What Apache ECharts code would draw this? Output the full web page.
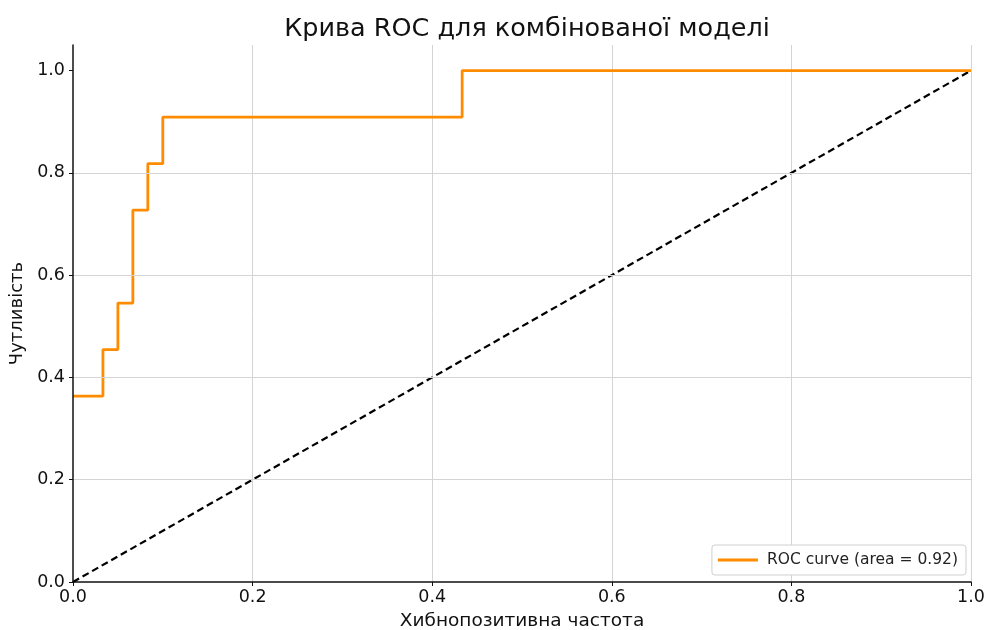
<!DOCTYPE html>
<html><head><meta charset="utf-8">
<script src="https://cdn.jsdelivr.net/npm/echarts@6/dist/echarts.min.js"></script>
<style>html,body{margin:0;padding:0;background:#fff}#c{width:989px;height:630px}</style>
</head><body><div id="c"></div>
<script>
const rocFpr = [0, 2/60, 2/60, 3/60, 3/60, 4/60, 4/60, 5/60, 5/60, 6/60, 6/60, 26/60, 26/60, 1];
const rocTpr = [4/11, 4/11, 5/11, 5/11, 6/11, 6/11, 8/11, 8/11, 9/11, 9/11, 10/11, 10/11, 1, 1];
const diagX = [0, 1];
const diagY = [0, 1];
const tickValues = [0, 0.2, 0.4, 0.6, 0.8, 1.0];
const rocName = 'ROC curve (area = 0.92)';
const titleText = 'Крива ROC для комбінованої моделі';
const xLabel = 'Хибнопозитивна частота';
const yLabel = 'Чутливість';

const font = 'DejaVu Sans';
const chart = echarts.init(document.getElementById('c'), null, {renderer: 'canvas'});
chart.setOption({
  animation: false,
  backgroundColor: '#fff',
  title: {text: titleText, left: 522, top: 11, textAlign: 'center',
    textStyle: {fontFamily: font, fontSize: 25.5, fontWeight: 'normal', color: '#111'}},
  grid: {left: 73, right: 18, top: 45, bottom: 48, outerBoundsMode: 'none', containLabel: false},
  legend: {
    data: [rocName], right: 23, bottom: 55, orient: 'vertical',
    itemWidth: 40, itemHeight: 3, itemGap: 5,
    padding: [7, 8, 7, 6],
    borderColor: '#cfcfcf', borderWidth: 1, borderRadius: 3, backgroundColor: '#fff',
    textStyle: {fontFamily: font, fontSize: 15.5, color: '#222', padding: [0, 0, 0, 4]},
    icon: 'rect'
  },
  xAxis: {
    type: 'value', min: 0, max: 1, interval: 0.2,
    name: xLabel, nameLocation: 'middle', nameGap: 30,
    nameTextStyle: {fontFamily: font, fontSize: 18.5, color: '#111'},
    axisLine: {show: true, lineStyle: {color: '#111', width: 1.5}},
    axisTick: {show: true, length: 4, lineStyle: {color: '#111'}},
    axisLabel: {fontFamily: font, fontSize: 17.5, color: '#111', margin: 6,
      formatter: v => v.toFixed(1)},
    splitLine: {show: true, showMinLine: false, lineStyle: {color: '#d4d4d4', width: 1}}
  },
  yAxis: {
    type: 'value', min: 0, max: 1.05, interval: 0.2, z: 10,
    name: yLabel, nameLocation: 'middle', nameGap: 47, nameRotate: 90,
    nameTextStyle: {fontFamily: font, fontSize: 18, color: '#111'},
    axisLine: {show: true, lineStyle: {color: '#111', width: 1.5}},
    axisTick: {show: true, length: 4, lineStyle: {color: '#111'}, customValues: tickValues},
    axisLabel: {fontFamily: font, fontSize: 17.5, color: '#111', margin: 8,
      customValues: tickValues, formatter: v => v.toFixed(1)},
    splitLine: {show: true, showMinLine: false, showMaxLine: false, lineStyle: {color: '#d4d4d4', width: 1}}
  },
  series: [
    {name: rocName, type: 'line', showSymbol: false, symbol: 'none',
      data: rocFpr.map((x, i) => [x, rocTpr[i]]),
      lineStyle: {color: '#ff8c00', width: 2.8}, itemStyle: {color: '#ff8c00'}, z: 3},
    {name: 'diag', type: 'line', showSymbol: false, symbol: 'none',
      data: diagX.map((x, i) => [x, diagY[i]]),
      lineStyle: {color: '#000', width: 2.2, type: [7, 4]}, z: 2}
  ]
});
</script></body></html>
